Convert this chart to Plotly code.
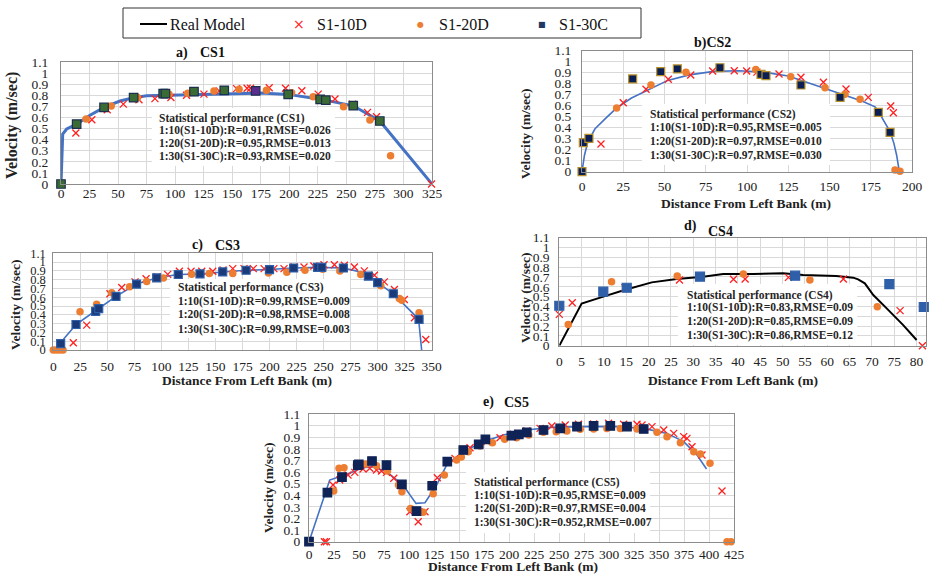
import plotly.graph_objects as go

W, H = 929, 575

# ---------------- DATA ----------------
y_tick_vals = [0, 0.1, 0.2, 0.3, 0.4, 0.5, 0.6, 0.7, 0.8, 0.9, 1.0, 1.1]
y_tick_text = ["0", "0.1", "0.2", "0.3", "0.4", "0.5", "0.6", "0.7", "0.8", "0.9", "1", "1.1"]

series_names = ["Real Model", "S1-10D", "S1-20D", "S1-30C"]

# CS1
cs1_line_x = [0, 1.5, 5, 13.7, 25.4, 37.7, 51.7, 63.6, 75, 92, 125, 151, 175, 199, 227, 256, 279.3, 325]
cs1_line_y = [0, 0.45, 0.496, 0.54, 0.62, 0.69, 0.748, 0.778, 0.796, 0.80, 0.812, 0.82, 0.82, 0.808, 0.765, 0.705, 0.568, 0]
cs1_10d_x = [13, 27, 40.5, 54.6, 68.3, 82.3, 96.3, 110, 125.2, 138.6, 153.8, 163, 166, 182.4, 196.7, 211, 225.3, 240, 255.4, 268.5, 276.4, 324.6]
cs1_10d_y = [0.46, 0.58, 0.67, 0.72, 0.76, 0.77, 0.78, 0.80, 0.81, 0.84, 0.86, 0.863, 0.863, 0.868, 0.863, 0.841, 0.81, 0.766, 0.72, 0.646, 0.607, 0.0]
cs1_20d_x = [22, 44, 67, 94.6, 111, 134, 156, 180, 202, 221, 247.5, 270.6, 288.7]
cs1_20d_y = [0.586, 0.703, 0.78, 0.81, 0.818, 0.839, 0.854, 0.845, 0.823, 0.787, 0.697, 0.577, 0.255]
cs1_30c_x = [0, 13.7, 37.7, 63.6, 89.5, 91.5, 116.5, 143, 170.5, 199, 227, 232, 256, 279.3]
cs1_30c_y = [0, 0.54, 0.69, 0.778, 0.815, 0.815, 0.832, 0.845, 0.839, 0.808, 0.763, 0.757, 0.706, 0.568]

# CS2
cs2_line_x = [0, 1.5, 3.5, 7.9, 14, 21, 30, 39.4, 52, 65, 80, 95, 110, 125, 139, 157, 170, 177.6, 180, 183, 186.7, 189, 190.7, 192.3]
cs2_line_y = [0, 0.15, 0.27, 0.39, 0.48, 0.58, 0.67, 0.74, 0.83, 0.88, 0.912, 0.918, 0.905, 0.87, 0.80, 0.71, 0.64, 0.59, 0.54, 0.46, 0.364, 0.26, 0.15, 0]
cs2_10d_x = [11.5, 25, 38.8, 52.3, 65.9, 79.2, 92.3, 99.8, 106, 119.4, 132.7, 146.3, 160, 173.5, 187.1, 188.7]
cs2_10d_y = [0.252, 0.627, 0.749, 0.84, 0.879, 0.915, 0.918, 0.915, 0.905, 0.888, 0.858, 0.813, 0.752, 0.676, 0.597, 0.536]
cs2_20d_x = [21, 41.8, 63, 105.3, 126.5, 147.3, 159.4, 168.5, 189.7, 192.7]
cs2_20d_y = [0.58, 0.788, 0.904, 0.93, 0.864, 0.764, 0.703, 0.658, 0.015, 0.004]
cs2_30c_x = [0, 0.8, 4.2, 30.7, 47.7, 57.8, 83.6, 108.5, 111.5, 132.7, 156.4, 179.6, 186.7]
cs2_30c_y = [0, 0.264, 0.303, 0.843, 0.909, 0.934, 0.945, 0.885, 0.873, 0.788, 0.676, 0.54, 0.358]

# CS3
cs3_line_x = [0, 6.8, 10, 21, 40, 58, 77, 95.6, 115, 136, 157, 178, 200, 222, 245, 268, 280, 291.4, 300, 314.5, 325, 334, 338.3, 340.7]
cs3_line_y = [0, 0.072, 0.13, 0.29, 0.455, 0.61, 0.75, 0.82, 0.858, 0.865, 0.888, 0.907, 0.915, 0.933, 0.94, 0.933, 0.9, 0.84, 0.767, 0.64, 0.51, 0.4, 0.3, 0]
cs3_10d_x = [18.5, 30.9, 52.4, 63.3, 75.6, 85.8, 96, 105.8, 116.6, 127.4, 137.3, 147.5, 157, 166, 176.4, 185, 195, 204, 213.4, 222.7, 231.9, 241, 250.4, 260, 269.2, 278.5, 287.7, 297, 306.2, 315.5, 324.7, 334, 344.5]
cs3_10d_y = [0.083, 0.283, 0.64, 0.71, 0.775, 0.81, 0.835, 0.86, 0.896, 0.896, 0.896, 0.896, 0.91, 0.926, 0.926, 0.926, 0.926, 0.926, 0.926, 0.945, 0.945, 0.956, 0.97, 0.97, 0.964, 0.945, 0.9, 0.85, 0.775, 0.688, 0.575, 0.366, 0.12]
cs3_20d_x = [0, 3, 6, 9, 24.7, 40.1, 54, 70.6, 86.4, 101.8, 128, 144.3, 166, 199, 216, 232.8, 249.2, 265, 284.4, 302.9, 320, 322.3, 338.3]
cs3_20d_y = [0, 0, 0, 0, 0.434, 0.52, 0.65, 0.72, 0.78, 0.82, 0.861, 0.87, 0.87, 0.877, 0.884, 0.907, 0.918, 0.90, 0.858, 0.73, 0.586, 0.567, 0.423]
cs3_30c_x = [6.8, 21, 39.2, 42, 58, 77, 95.6, 115.6, 135.7, 156.7, 178.3, 200, 222.3, 244.5, 248.3, 268.3, 291.4, 300, 314.5, 338.3]
cs3_30c_y = [0.072, 0.29, 0.44, 0.47, 0.61, 0.75, 0.82, 0.858, 0.865, 0.888, 0.907, 0.915, 0.933, 0.94, 0.94, 0.933, 0.84, 0.767, 0.64, 0.348]

# CS4
cs4_line_x = [0, 5, 9.85, 14.6, 20.7, 26.3, 32.2, 36.7, 43.4, 50.1, 54.6, 62, 65.8, 66.9, 68.4, 70.3, 73.3, 77, 80]
cs4_line_y = [0, 0.43, 0.5, 0.567, 0.645, 0.68, 0.703, 0.73, 0.73, 0.737, 0.72, 0.71, 0.693, 0.675, 0.635, 0.516, 0.38, 0.21, 0.058]
cs4_10d_x = [0, 2.9, 14.7, 26.9, 39, 41.6, 51.3, 63.6, 76.3, 81.3]
cs4_10d_y = [0.319, 0.438, 0.59, 0.669, 0.676, 0.68, 0.696, 0.68, 0.357, 0]
cs4_20d_x = [2, 11.7, 26.4, 41.2, 56.1, 71.2]
cs4_20d_y = [0.217, 0.652, 0.71, 0.73, 0.669, 0.397]
cs4_30c_x = [0, 9.85, 15.1, 31.5, 52.8, 73.9, 81.6]
cs4_30c_y = [0.407, 0.55, 0.59, 0.703, 0.713, 0.628, 0.394]

# CS5
cs5_line_x = [0, 20.7, 40.7, 54, 64, 77.5, 94, 100.7, 107, 116, 127.6, 137.6, 154.3, 174.3, 194.4, 217.8, 241, 274.5, 308, 334.7, 358, 374.7, 388, 397.5]
cs5_line_y = [0, 0.531, 0.589, 0.638, 0.646, 0.603, 0.488, 0.402, 0.33, 0.336, 0.488, 0.66, 0.775, 0.862, 0.919, 0.962, 0.985, 0.991, 0.991, 0.976, 0.933, 0.862, 0.747, 0.626]
cs5_10d_x = [15.4, 17.4, 24, 30.7, 39, 45.8, 54, 60.8, 67.5, 72.5, 77.5, 84.8, 90.8, 100.9, 109.2, 116, 128.3, 146, 161, 177.7, 191, 204.4, 217.8, 231.1, 242.8, 256.2, 269.5, 284.6, 299.6, 314.6, 328, 333, 343, 354.7, 364.7, 374.7, 378, 383, 393, 413]
cs5_10d_y = [0, 0, 0.488, 0.531, 0.574, 0.597, 0.626, 0.632, 0.617, 0.609, 0.597, 0.546, 0.488, 0.258, 0.172, 0.258, 0.551, 0.718, 0.81, 0.862, 0.896, 0.925, 0.953, 0.976, 0.997, 1.005, 1.011, 1.014, 1.02, 1.011, 1.011, 1.005, 0.991, 0.962, 0.933, 0.905, 0.89, 0.818, 0.747, 0.437]
cs5_20d_x = [24.7, 30, 35, 47.4, 56.8, 67.5, 78.5, 89.5, 92.9, 101.5, 114.2, 124.2, 135.3, 147.6, 152.3, 159.3, 171, 183.4, 195.7, 207.7, 219.8, 234.5, 247.2, 257.8, 271.2, 284.6, 297.9, 311.3, 328, 348, 358, 371.4, 384.8, 391.5, 401, 418, 422]
cs5_20d_y = [0.437, 0.632, 0.638, 0.66, 0.669, 0.655, 0.609, 0.488, 0.431, 0.287, 0.253, 0.414, 0.574, 0.704, 0.73, 0.775, 0.824, 0.853, 0.882, 0.896, 0.919, 0.942, 0.948, 0.953, 0.968, 0.971, 0.976, 0.976, 0.971, 0.942, 0.905, 0.853, 0.775, 0.755, 0.675, 0, 0]
cs5_30c_x = [0, 18.4, 33, 48.8, 49.8, 63, 77.5, 92.9, 107.5, 123.2, 138.3, 154.3, 169.7, 176.4, 202.4, 209.8, 217.8, 234.5, 251.2, 268, 284.6, 301.3, 318, 334.7]
cs5_30c_y = [0, 0.422, 0.557, 0.66, 0.666, 0.695, 0.66, 0.494, 0.264, 0.482, 0.689, 0.79, 0.839, 0.882, 0.913, 0.925, 0.942, 0.962, 0.976, 0.991, 0.997, 0.997, 0.991, 0.971]

stats = {
    1: ["Statistical performance (CS1)", "1:10(S1-10D):R=0.91,RMSE=0.026", "1:20(S1-20D):R=0.95,RMSE=0.013", "1:30(S1-30C):R=0.93,RMSE=0.020"],
    2: ["Statistical performance (CS2)", "1:10(S1-10D):R=0.95,RMSE=0.005", "1:20(S1-20D):R=0.97,RMSE=0.010", "1:30(S1-30C):R=0.97,RMSE=0.030"],
    3: ["Statistical performance (CS3)", "1:10(S1-10D):R=0.99,RMSE=0.009", "1:20(S1-20D):R=0.98,RMSE=0.008", "1:30(S1-30C):R=0.99,RMSE=0.003"],
    4: ["Statistical performance (CS4)", "1:10(S1-10D):R=0.83,RMSE=0.09", "1:20(S1-20D):R=0.85,RMSE=0.09", "1:30(S1-30C):R=0.86,RMSE=0.12"],
    5: ["Statistical performance (CS5)", "1:10(S1-10D):R=0.95,RMSE=0.009", "1:20(S1-20D):R=0.97,RMSE=0.004", "1:30(S1-30C):R=0.952,RMSE=0.007"],
}
x_ranges = {1: [0, 325], 2: [0, 200], 3: [0, 350], 4: [0, 82.1], 5: [0, 425]}
x_dticks = {1: 25, 2: 25, 3: 25, 4: 5, 5: 25}
panel_letters = {1: "a)", 2: "b)", 3: "c)", 4: "d)", 5: "e)"}
panel_names = {1: "CS1", 2: "CS2", 3: "CS3", 4: "CS4", 5: "CS5"}

data = {
    1: (cs1_line_x, cs1_line_y, cs1_10d_x, cs1_10d_y, cs1_20d_x, cs1_20d_y, cs1_30c_x, cs1_30c_y),
    2: (cs2_line_x, cs2_line_y, cs2_10d_x, cs2_10d_y, cs2_20d_x, cs2_20d_y, cs2_30c_x, cs2_30c_y),
    3: (cs3_line_x, cs3_line_y, cs3_10d_x, cs3_10d_y, cs3_20d_x, cs3_20d_y, cs3_30c_x, cs3_30c_y),
    4: (cs4_line_x, cs4_line_y, cs4_10d_x, cs4_10d_y, cs4_20d_x, cs4_20d_y, cs4_30c_x, cs4_30c_y),
    5: (cs5_line_x, cs5_line_y, cs5_10d_x, cs5_10d_y, cs5_20d_x, cs5_20d_y, cs5_30c_x, cs5_30c_y),
}

# ---------------- LAYOUT / STYLE ----------------
SERIF = "Liberation Serif, Times New Roman, serif"
# plot-area pixel boxes: left, right, top, bottom
boxes = {1: (61, 432, 62, 184), 2: (582, 912, 50.7, 171.7), 3: (53.3, 431.7, 253.3, 350),
         4: (559.3, 926, 237.7, 345.7), 5: (309, 734, 414, 541.7)}
line_colors = {1: "#4472c4", 2: "#4472c4", 3: "#4472c4", 4: "#000000", 5: "#4472c4"}
line_widths = {1: 3, 2: 1.6, 3: 1.6, 4: 2, 5: 1.6}
sq_fill = {1: "#3b6b34", 2: "#0b1f55", 3: "#1a3a7a", 4: "#2e5fa8", 5: "#0f2357"}
sq_edge = {1: "#1d2f4f", 2: "#b8912a", 3: "#2e5fa8", 4: "#2e5fa8", 5: "#0f2357"}
sq_size = {1: 8.5, 2: 8, 3: 8, 4: 9, 5: 8.5}
stat_boxes = {1: (152, 335, 108, 166), 2: (642, 830, 104, 165), 3: (170, 350, 279, 338),
              4: (678, 857, 284, 345), 5: (466, 650, 472, 533)}
stat_lines_y = {1: [118.3, 130.7, 143.3, 156.7], 2: [115, 127.7, 142, 155.3], 3: [287.3, 301, 315, 329],
                4: [295, 307.3, 321.7, 335], 5: [482.3, 495, 508.3, 522.3]}
stat_left = {1: 157, 2: 647.7, 3: 175.7, 4: 685, 5: 471.7}
title_pos = {1: [(182, 53), (212, 53)], 2: [(712, 43)], 3: [(197, 245), (227, 245)],
             4: [(690, 226), (720, 231)], 5: [(488, 402), (516, 402)]}
ytitle_pos = {1: (12, 126, 16), 2: (525, 134, 13.5), 3: (15, 305, 13.5), 4: (525, 298, 13.5), 5: (268, 488, 13.5)}
xtitle_pos = {2: (746, 203), 3: (247, 380), 4: (733, 380), 5: (513, 566.5)}
ytick_std = {1: 9, 2: 7, 3: 4, 4: 6, 5: 5}
ytick_size = {1: 13.5, 2: 13.5, 3: 12.5, 4: 13.5, 5: 13.5}
xtick_std = {1: -3, 2: 2, 3: 4, 4: 3, 5: 0}


def fx(p):
    return p / W


def fy(p):
    return 1 - p / H


fig = go.Figure()
annotations = []
shapes = []
layout = {}

for i in range(1, 6):
    lx, ly, ax10, ay10, ax20, ay20, ax30, ay30 = data[i]
    xa = "x" if i == 1 else f"x{i}"
    ya = "y" if i == 1 else f"y{i}"
    fig.add_trace(go.Scatter(x=lx, y=ly, mode="lines", xaxis=xa, yaxis=ya, showlegend=False,
                             line=dict(color=line_colors[i], width=line_widths[i]), cliponaxis=False,
                             name=series_names[0]))
    fig.add_trace(go.Scatter(x=ax10, y=ay10, mode="markers", xaxis=xa, yaxis=ya, showlegend=False,
                             marker=dict(symbol="x-thin", size=7, line=dict(width=1.3, color="#ff2020")),
                             cliponaxis=False, name=series_names[1]))
    fig.add_trace(go.Scatter(x=ax20, y=ay20, mode="markers", xaxis=xa, yaxis=ya, showlegend=False,
                             marker=dict(symbol="circle", size=7.5, color="#ed7d31", line=dict(width=0)),
                             cliponaxis=False, name=series_names[2]))
    cols = [sq_fill[i]] * len(ax30)
    if i == 1:
        cols[ax30.index(170.5)] = "#5b2d8e"
    fig.add_trace(go.Scatter(x=ax30, y=ay30, mode="markers", xaxis=xa, yaxis=ya, showlegend=False,
                             marker=dict(symbol="square", size=sq_size[i], color=cols,
                                         line=dict(width=1.2, color=sq_edge[i])),
                             cliponaxis=False, name=series_names[3]))

    l, r, t, b = boxes[i]
    kx = "xaxis" if i == 1 else f"xaxis{i}"
    ky = "yaxis" if i == 1 else f"yaxis{i}"
    layout[kx] = dict(domain=[fx(l), fx(r)], range=x_ranges[i], dtick=x_dticks[i], tick0=0,
                      anchor=ya, showgrid=True, gridcolor="#d9d9d9", gridwidth=1, zeroline=False,
                      showline=True, linecolor="#8c8c8c", linewidth=1, mirror=True, ticks="",
                      ticklabelstandoff=xtick_std[i], automargin=False,
                      tickfont=dict(family=SERIF, size=13.5, color="#222222"))
    layout[ky] = dict(domain=[fy(b), fy(t)], range=[0, 1.1], tickvals=y_tick_vals, ticktext=y_tick_text,
                      anchor=xa, showgrid=True, gridcolor="#d9d9d9", gridwidth=1, zeroline=False,
                      showline=True, linecolor="#8c8c8c", linewidth=1, mirror=True, ticks="",
                      ticklabelstandoff=ytick_std[i], automargin=False,
                      tickfont=dict(family=SERIF, size=ytick_size[i], color="#222222"))

    # statistics box: white background block
    sl, sr, st, sb = stat_boxes[i]
    annotations.append(dict(text=" ", xref="paper", yref="paper", x=fx(sl), y=fy(st),
                            xanchor="left", yanchor="top", width=sr - sl, height=sb - st,
                            bgcolor="white", borderpad=0, borderwidth=0, showarrow=False,
                            font=dict(size=2)))
    for txt, yy in zip(stats[i], stat_lines_y[i]):
        annotations.append(dict(text="<b>" + txt + "</b>", xref="paper", yref="paper",
                                x=fx(stat_left[i]), y=fy(yy), xanchor="left", yanchor="middle",
                                showarrow=False, font=dict(family=SERIF, size=11.5, color="#262626")))
    # panel titles
    tp = title_pos[i]
    if len(tp) == 2:
        annotations.append(dict(text="<b>" + panel_letters[i] + "</b>", xref="paper", yref="paper",
                                x=fx(tp[0][0]), y=fy(tp[0][1]), xanchor="center", yanchor="middle",
                                showarrow=False, font=dict(family=SERIF, size=14, color="#111111")))
        annotations.append(dict(text="<b>" + panel_names[i] + "</b>", xref="paper", yref="paper",
                                x=fx(tp[1][0]), y=fy(tp[1][1]), xanchor="center", yanchor="middle",
                                showarrow=False, font=dict(family=SERIF, size=14, color="#111111")))
    else:
        annotations.append(dict(text="<b>" + panel_letters[i] + panel_names[i] + "</b>", xref="paper",
                                yref="paper", x=fx(tp[0][0]), y=fy(tp[0][1]), xanchor="center",
                                yanchor="middle", showarrow=False,
                                font=dict(family=SERIF, size=14, color="#111111")))
    yt = ytitle_pos[i]
    annotations.append(dict(text="<b>Velocity (m/sec)</b>", xref="paper", yref="paper", x=fx(yt[0]),
                            y=fy(yt[1]), xanchor="center", yanchor="middle", textangle=-90,
                            showarrow=False, font=dict(family=SERIF, size=yt[2], color="#222222")))
    if i in xtitle_pos:
        xt = xtitle_pos[i]
        annotations.append(dict(text="<b>Distance From Left Bank (m)</b>", xref="paper", yref="paper",
                                x=fx(xt[0]), y=fy(xt[1]), xanchor="center", yanchor="middle",
                                showarrow=False, font=dict(family=SERIF, size=13.5, color="#222222")))

# ---------------- LEGEND (drawn manually) ----------------
shapes.append(dict(type="rect", xref="paper", yref="paper", x0=fx(123), x1=fx(641), y0=fy(38), y1=fy(8),
                   line=dict(color="#333333", width=1), fillcolor="rgba(0,0,0,0)"))
shapes.append(dict(type="line", xref="paper", yref="paper", x0=fx(140), x1=fx(167), y0=fy(24), y1=fy(24),
                   line=dict(color="#000000", width=2)))
leg_text_x = [168, 315, 437, 557]
for name, lx in zip(series_names, leg_text_x):
    annotations.append(dict(text=name, xref="paper", yref="paper", x=fx(lx), y=fy(24.5), xanchor="left",
                            yanchor="middle", showarrow=False, font=dict(family=SERIF, size=16, color="#111111")))
leg_keys = [("\u00d7", 299, "#ff2020", 14), ("\u25cf", 420, "#ed7d31", 8), ("\u25a0", 542, "#1f3864", 8)]
for glyph, kxp, kc, ks in leg_keys:
    annotations.append(dict(text=glyph, xref="paper", yref="paper", x=fx(kxp), y=fy(24), xanchor="center",
                            yanchor="middle", showarrow=False,
                            font=dict(family="DejaVu Sans", size=ks, color=kc)))

fig.update_layout(width=W, height=H, margin=dict(l=0, r=0, t=0, b=0, pad=0, autoexpand=False),
                  paper_bgcolor="white", plot_bgcolor="white", showlegend=False,
                  annotations=annotations, shapes=shapes, **layout)
fig.write_html("out.html")
